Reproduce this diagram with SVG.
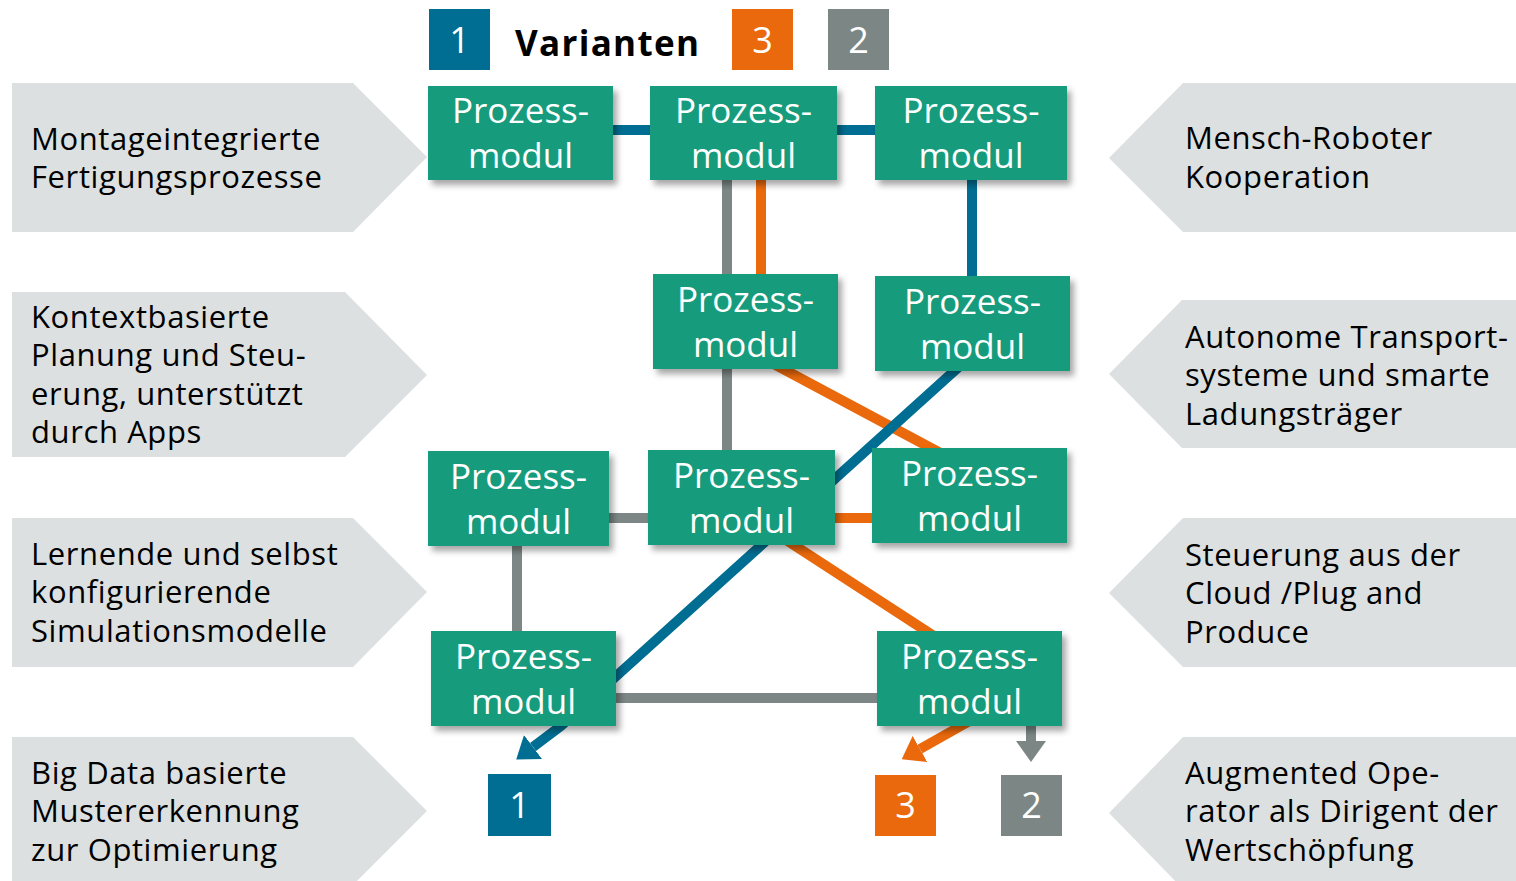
<svg xmlns="http://www.w3.org/2000/svg" width="1516" height="881" viewBox="0 0 1516 881">
<style>
.bg{fill:#dde0e1}
.lt{font-family:"Open Sans","Noto Sans",sans-serif;font-size:31px;letter-spacing:0.6px;fill:#000}
.box{fill:#179c7d;filter:url(#sh)}
.bt{font-family:"Open Sans","Noto Sans",sans-serif;font-size:35px;fill:#fff;text-anchor:middle}
.num{font-family:"Open Sans","Noto Sans",sans-serif;font-size:36px;fill:#fff;text-anchor:middle}
.c{fill:none;stroke-width:10}
.blue{stroke:#006e92}
.orange{stroke:#e9690c}
.gray{stroke:#7c8785}
</style>
<defs>
<filter id="sh" x="-10%" y="-10%" width="130%" height="140%">
<feDropShadow dx="4" dy="5" stdDeviation="3" flood-color="#000" flood-opacity="0.35"/>
</filter>
<marker id="ab" markerUnits="userSpaceOnUse" viewBox="0 0 21 30" markerWidth="21" markerHeight="30" refX="0" refY="15" orient="auto"><path d="M0,0 L21,15 L0,30 z" fill="#006e92"/></marker>
<marker id="ao" markerUnits="userSpaceOnUse" viewBox="0 0 21 30" markerWidth="21" markerHeight="30" refX="0" refY="15" orient="auto"><path d="M0,0 L21,15 L0,30 z" fill="#e9690c"/></marker>
<marker id="ag" markerUnits="userSpaceOnUse" viewBox="0 0 21 30" markerWidth="21" markerHeight="30" refX="0" refY="15" orient="auto"><path d="M0,0 L21,15 L0,30 z" fill="#7c8785"/></marker>
</defs>

<g id="label-montage">
<polygon class="bg" points="12,83 353,83 427,157 353,232 12,232"/>
<text class="lt" x="31" y="150">Montageintegrierte</text>
<text class="lt" x="31" y="188">Fertigungsprozesse</text>
</g>
<g id="label-kontext">
<polygon class="bg" points="12,292 345,292 427,375 345,457 12,457"/>
<text class="lt" x="31" y="328">Kontextbasierte</text>
<text class="lt" x="31" y="366">Planung und Steu-</text>
<text class="lt" x="31" y="405">erung, unterstützt</text>
<text class="lt" x="31" y="443">durch Apps</text>
</g>
<g id="label-lernende">
<polygon class="bg" points="12,518 353,518 427,592 353,667 12,667"/>
<text class="lt" x="31" y="565">Lernende und selbst</text>
<text class="lt" x="31" y="603">konfigurierende</text>
<text class="lt" x="31" y="642">Simulationsmodelle</text>
</g>
<g id="label-bigdata">
<polygon class="bg" points="12,737 353,737 427,811 353,885 12,885"/>
<text class="lt" x="31" y="784">Big Data basierte</text>
<text class="lt" x="31" y="822">Mustererkennung</text>
<text class="lt" x="31" y="861">zur Optimierung</text>
</g>
<g id="label-mensch">
<polygon class="bg" points="1109,158 1183,83 1516,83 1516,232 1183,232"/>
<text class="lt" x="1185" y="149">Mensch-Roboter</text>
<text class="lt" x="1185" y="188">Kooperation</text>
</g>
<g id="label-autonom">
<polygon class="bg" points="1109,374 1182,300 1516,300 1516,448 1182,448"/>
<text class="lt" x="1185" y="348">Autonome Transport-</text>
<text class="lt" x="1185" y="386">systeme und smarte</text>
<text class="lt" x="1185" y="425">Ladungsträger</text>
</g>
<g id="label-cloud">
<polygon class="bg" points="1109,593 1183,518 1516,518 1516,667 1183,667"/>
<text class="lt" x="1185" y="566">Steuerung aus der</text>
<text class="lt" x="1185" y="604">Cloud /Plug and</text>
<text class="lt" x="1185" y="643">Produce</text>
</g>
<g id="label-augmented">
<polygon class="bg" points="1109,813 1183,737 1516,737 1516,889 1183,889"/>
<text class="lt" x="1185" y="784">Augmented Ope-</text>
<text class="lt" x="1185" y="822">rator als Dirigent der</text>
<text class="lt" x="1185" y="861">Wertschöpfung</text>
</g>

<g id="legend">
<rect x="429" y="9" width="61" height="61" fill="#006e92"/>
<text class="num" x="459.5" y="53">1</text>
<text x="515" y="56" font-family="'Open Sans','Noto Sans',sans-serif" font-size="35" font-weight="700" letter-spacing="1.3" fill="#000">Varianten</text>
<rect x="732" y="9" width="61" height="61" fill="#e9690c"/>
<text class="num" x="762.5" y="53">3</text>
<rect x="828" y="9" width="61" height="61" fill="#7c8785"/>
<text class="num" x="858.5" y="53">2</text>
</g>

<g id="connectors">
<path class="c gray" d="M727,175 V455"/>
<path class="c gray" d="M605,518 H652"/>
<path class="c gray" d="M517,540 V636"/>
<path class="c gray" d="M612,698 H882"/>
<path class="c gray" d="M1031,720 V741" marker-end="url(#ag)"/>
<path class="c orange" d="M761,175 V279"/>
<path class="c orange" d="M770,362 L946,456"/>
<path class="c orange" d="M830,518 H877"/>
<path class="c orange" d="M780,536 L940,640"/>
<path class="c orange" d="M975,718 L920,749" marker-end="url(#ao)"/>
<path class="c blue" d="M608,130 H880"/>
<path class="c blue" d="M972,175 V281"/>
<path class="c blue" d="M962,364 L561,726 L533,747" marker-end="url(#ab)"/>
</g>

<g id="node-a1"><rect class="box" x="428" y="86" width="185" height="94"/><text class="bt" x="520.5" y="123">Prozess-</text><text class="bt" x="520.5" y="168">modul</text></g>
<g id="node-a2"><rect class="box" x="650" y="86" width="187" height="94"/><text class="bt" x="743.5" y="123">Prozess-</text><text class="bt" x="743.5" y="168">modul</text></g>
<g id="node-a3"><rect class="box" x="875" y="86" width="192" height="94"/><text class="bt" x="971" y="123">Prozess-</text><text class="bt" x="971" y="168">modul</text></g>
<g id="node-b1"><rect class="box" x="653" y="274" width="185" height="95"/><text class="bt" x="745.5" y="312">Prozess-</text><text class="bt" x="745.5" y="357">modul</text></g>
<g id="node-b2"><rect class="box" x="875" y="276" width="195" height="95"/><text class="bt" x="972.5" y="314">Prozess-</text><text class="bt" x="972.5" y="359">modul</text></g>
<g id="node-c1"><rect class="box" x="428" y="451" width="181" height="95"/><text class="bt" x="518.5" y="489">Prozess-</text><text class="bt" x="518.5" y="534">modul</text></g>
<g id="node-c2"><rect class="box" x="648" y="450" width="187" height="95"/><text class="bt" x="741.5" y="488">Prozess-</text><text class="bt" x="741.5" y="533">modul</text></g>
<g id="node-c3"><rect class="box" x="872" y="448" width="195" height="95"/><text class="bt" x="969.5" y="486">Prozess-</text><text class="bt" x="969.5" y="531">modul</text></g>
<g id="node-d1"><rect class="box" x="431" y="631" width="185" height="95"/><text class="bt" x="523.5" y="669">Prozess-</text><text class="bt" x="523.5" y="714">modul</text></g>
<g id="node-d2"><rect class="box" x="877" y="631" width="185" height="95"/><text class="bt" x="969.5" y="669">Prozess-</text><text class="bt" x="969.5" y="714">modul</text></g>

<g id="out-1"><rect x="488" y="774" width="63" height="62" fill="#006e92"/><text class="num" x="519.5" y="818">1</text></g>
<g id="out-3"><rect x="875" y="775" width="61" height="61" fill="#e9690c"/><text class="num" x="905.5" y="818">3</text></g>
<g id="out-2"><rect x="1001" y="775" width="61" height="61" fill="#7c8785"/><text class="num" x="1031.5" y="818">2</text></g>
</svg>
